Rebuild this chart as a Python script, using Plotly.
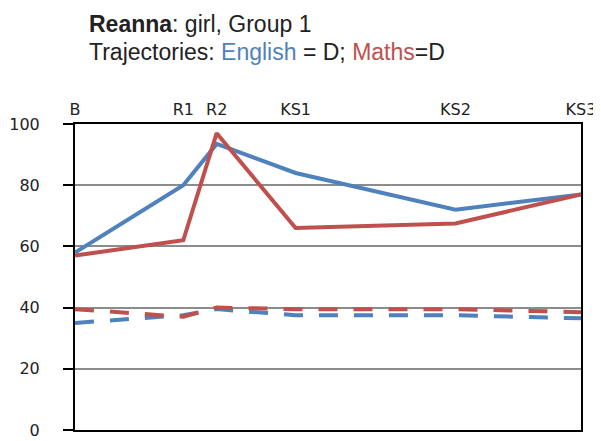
import plotly.graph_objects as go

# stages along the top axis and where they sit on the time scale
stages = ["B", "R1", "R2", "KS1", "KS2", "KS3"]
stage_pos = [0, 2.14, 2.8, 4.36, 7.52, 10]

english = [58, 80, 93.5, 84, 72, 77]
maths = [57, 62, 97, 66, 67.5, 77]
english_traj = [35, 37.5, 39.5, 37.5, 37.5, 36.5]
maths_traj = [39.5, 37, 40, 39.5, 39.5, 38.5]

blue = "#4F81BD"
red = "#C0504D"

fig = go.Figure()
fig.add_trace(go.Scatter(x=stage_pos, y=english_traj, mode="lines",
                         line=dict(color=blue, width=4, dash="19px,16px")))
fig.add_trace(go.Scatter(x=stage_pos, y=maths_traj, mode="lines",
                         line=dict(color=red, width=4, dash="19px,16px")))
fig.add_trace(go.Scatter(x=stage_pos, y=english, mode="lines",
                         line=dict(color=blue, width=4)))
fig.add_trace(go.Scatter(x=stage_pos, y=maths, mode="lines",
                         line=dict(color=red, width=4)))

tick_font = dict(family="DejaVu Sans", size=16, color="#222")
fig.update_xaxes(side="top", range=[0, 10], tickvals=stage_pos, ticktext=stages,
                 showgrid=False, zeroline=False, showline=True, linecolor="black",
                 linewidth=2, mirror=True, ticks="", ticklabelstandoff=1,
                 automargin=False, ticklabeloverflow="allow", tickfont=tick_font)
fig.update_yaxes(range=[0, 100], dtick=20, showgrid=True, gridcolor="#8c8c8c",
                 gridwidth=1.5, zeroline=False, showline=True, linecolor="black",
                 linewidth=2, mirror=True, ticks="outside", ticklen=10, tickcolor="black",
                 tickwidth=1.5, ticklabelstandoff=20, automargin=False,
                 ticklabeloverflow="allow", tickfont=tick_font)

title_font = dict(family="Liberation Sans, Arial", size=23, color="#222")
fig.add_annotation(text="<b>Reanna</b>: girl, Group 1", xref="paper", yref="paper",
                   x=0.024, y=1.327, xanchor="left", yanchor="middle", showarrow=False,
                   font=title_font)
fig.add_annotation(text="Trajectories: <span style='color:#4F81BD'>English</span> = D; "
                        "<span style='color:#C0504D'>Maths</span>=D",
                   xref="paper", yref="paper", x=0.024, y=1.234, xanchor="left",
                   yanchor="middle", showarrow=False, font=title_font)

# page has an 8px body margin, so the figure is sized to fit inside it
fig.update_layout(width=593, height=433, showlegend=False,
                  plot_bgcolor="white", paper_bgcolor="white",
                  margin=dict(l=67, r=20, t=116, b=11))

fig.write_html("out.html")
